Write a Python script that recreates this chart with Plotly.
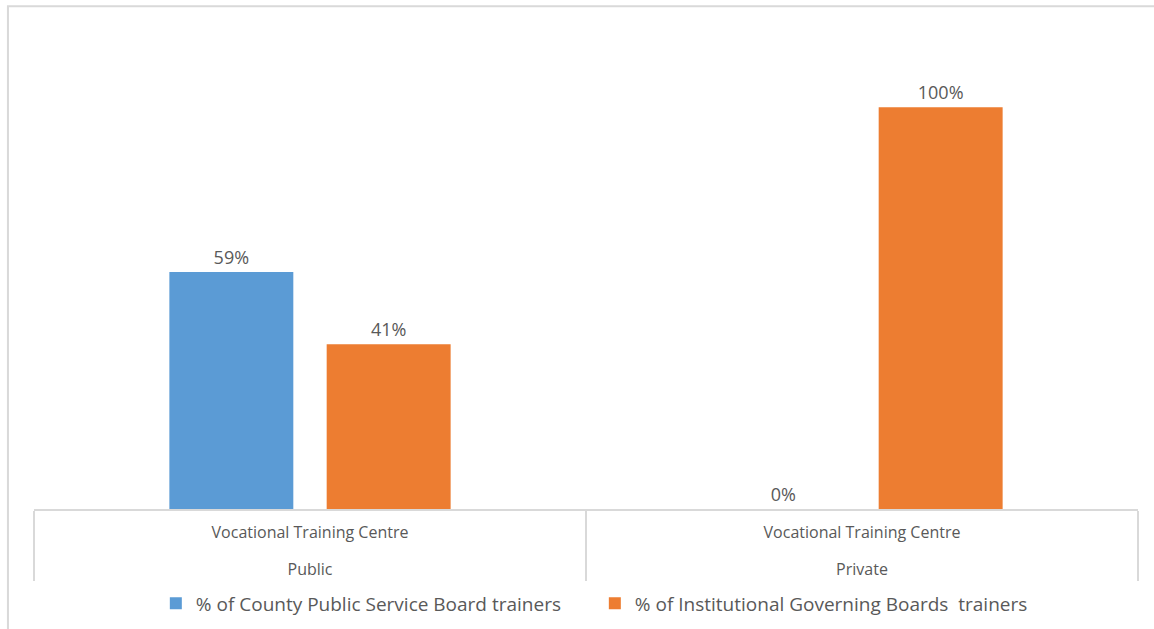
import plotly.graph_objects as go

# Training-centre categories (outer level: ownership, inner level: centre type)
ownership = ["Public", "Private"]
centre_type = ["Vocational Training Centre", "Vocational Training Centre"]

# Share of trainers by employing body
county_board_share = [0.59, 0.0]
institutional_board_share = [0.41, 1.0]

series_names = [
    "% of County Public Service Board trainers",
    "% of Institutional Governing Boards  trainers",
]
series_colors = ["#5b9bd5", "#ed7d31"]

TEXT = "#595959"
GRID = "#d9d9d9"
FONT = "Open Sans"

# outer level label gets a blank first line so it sits lower beneath the inner row
x_levels = [["<br>" + o for o in ownership], centre_type]

fig = go.Figure()
for name, vals, color in zip(series_names,
                             [county_board_share, institutional_board_share],
                             series_colors):
    fig.add_trace(go.Bar(
        x=x_levels,
        y=vals,
        name=name,
        marker=dict(color=color, line=dict(width=0)),
        texttemplate="%{y:.0%}",
        textposition="outside",
        textfont=dict(family=FONT, size=18, color=TEXT),
        cliponaxis=False,
    ))

fig.update_layout(
    width=1154,
    height=629,
    margin=dict(l=34, r=16, t=27, b=120, autoexpand=False),
    paper_bgcolor="white",
    plot_bgcolor="white",
    barmode="group",
    bargap=0.43,
    bargroupgap=0.212,
    font=dict(family=FONT, size=16, color=TEXT),
    showlegend=True,
    legend=dict(
        orientation="h",
        x=0.508, xanchor="center",
        y=-0.196, yanchor="middle",
        font=dict(family=FONT, size=19, color=TEXT),
        itemwidth=30,
        entrywidth=394,
        traceorder="normal",
    ),
    xaxis=dict(
        automargin=False,
        showline=True,
        linecolor=GRID,
        linewidth=1.5,
        ticks="",
        showgrid=False,
        showdividers=True,
        dividercolor=GRID,
        dividerwidth=1.5,
        ticklabelstandoff=8,
        tickfont=dict(family=FONT, size=16, color=TEXT),
    ),
    yaxis=dict(
        range=[0, 1.2],
        visible=False,
        showgrid=False,
        zeroline=False,
    ),
    shapes=[
        # chart frame (top and left edges fall inside the page)
        dict(type="rect", xref="paper", yref="paper",
             x0=-0.0236, x1=1.05, y0=-0.5, y1=1.043,
             line=dict(color=GRID, width=2), fillcolor="rgba(0,0,0,0)",
             layer="below"),
    ],
)

fig.write_html("out.html")
